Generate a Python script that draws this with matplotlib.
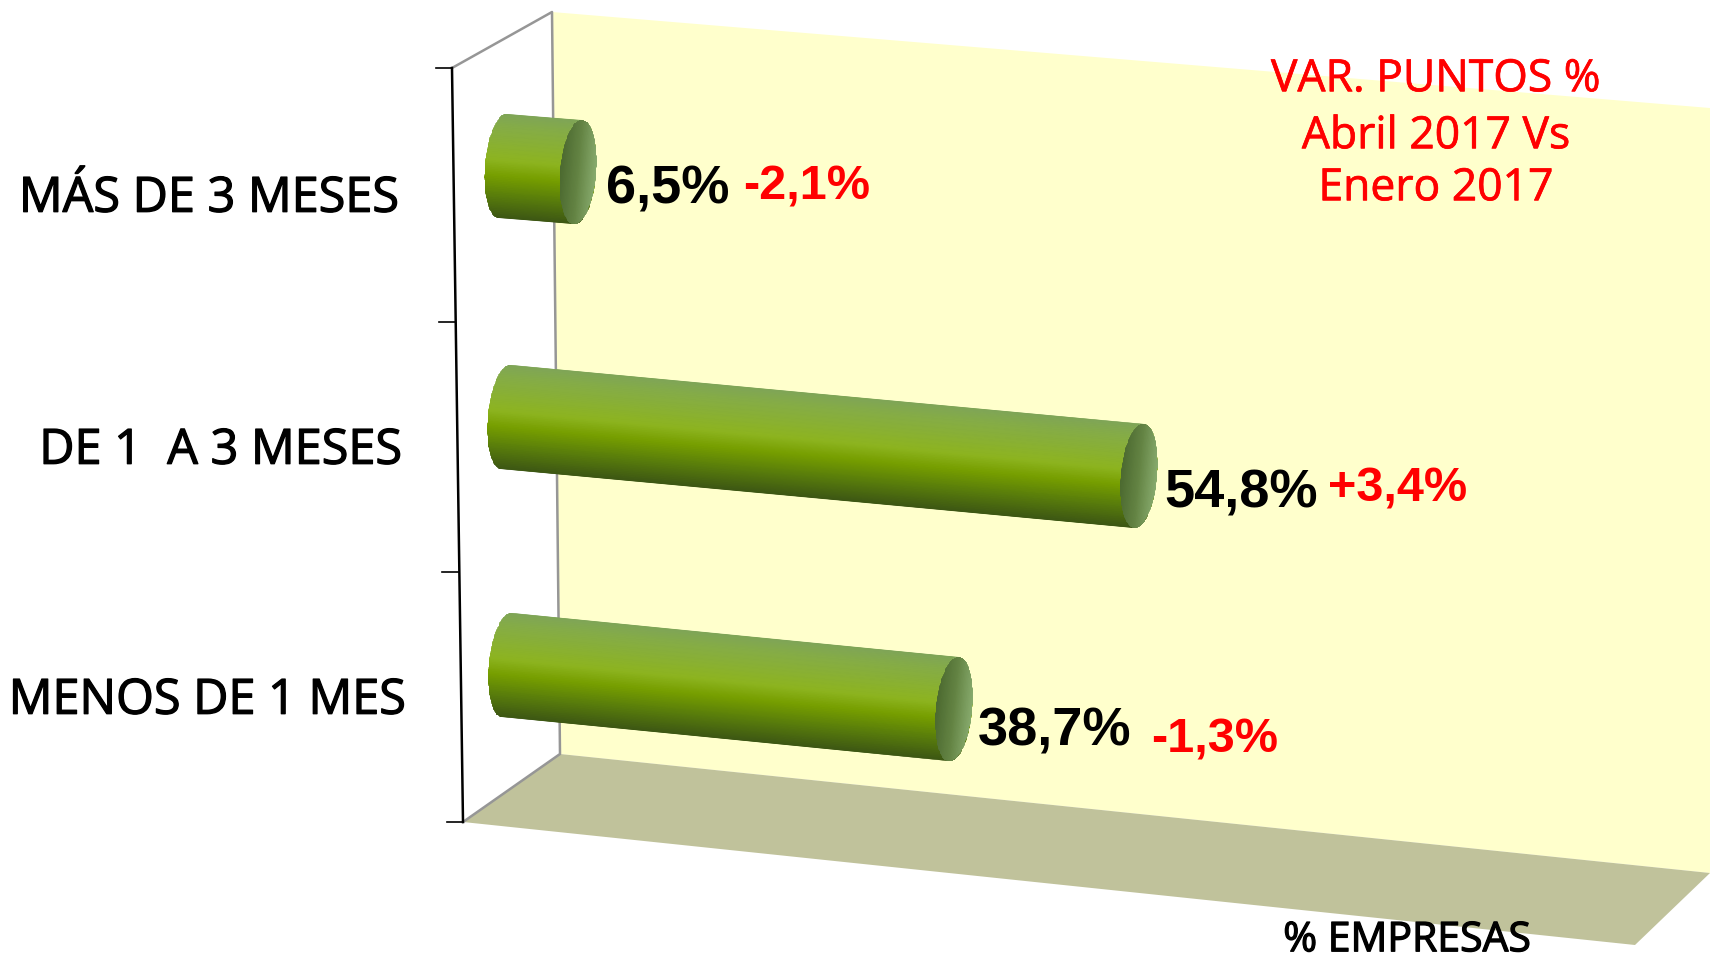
import numpy as np
import matplotlib
matplotlib.use("Agg")
import matplotlib.pyplot as plt
import matplotlib.patheffects as pe
from matplotlib.colors import LinearSegmentedColormap
from matplotlib.patches import Polygon

# datos del grafico
categorias = ["MÁS DE 3 MESES", "DE 1  A 3 MESES", "MENOS DE 1 MES"]
valores = [6.5, 54.8, 38.7]
variacion = ["-2,1%", "+3,4%", "-1,3%"]
etiquetas = ["6,5%", "54,8%", "38,7%"]
titulo_var = ["VAR. PUNTOS %", "Abril 2017 Vs", "Enero 2017"]
titulo_eje = "% EMPRESAS"

# escala y geometria en pixeles de la imagen
PX_POR_PUNTO = 11.55
inicio_x = [503, 506, 507]
inicio_y = [166, 417, 665]
pendiente = [0.083, 0.093, 0.099]
radio_y = 52
radio_x = 18

etiqueta_y = [199, 451, 701]
valor_pos = [(606, 189), (1164, 494), (978, 731)]
var_pos = [(743, 187), (1328, 489), (1151, 740)]

cmap_cuerpo = LinearSegmentedColormap.from_list(
    "cuerpo",
    [(0.0, "#7FA558"), (0.12, "#85AC48"), (0.45, "#8DB420"), (0.60, "#779F00"),
     (0.80, "#587C0C"), (1.0, "#3D5714")],
)
cmap_tapa = LinearSegmentedColormap.from_list("tapa", ["#4C6A30", "#648444", "#88AB6E"])


def anillo(cx, cy, s, t):
    # elipse girada segun la pendiente de la barra
    dx = radio_x * np.cos(t)
    dy = radio_y * np.sin(t)
    return cx + dx - s * dy, cy + dy + s * dx


def cilindro(ax, x0, y0, valor, s):
    largo = valor * PX_POR_PUNTO
    x1, y1 = x0 + largo, y0 + s * largo

    # cuerpo con degradado vertical
    izq = np.linspace(np.pi / 2, 3 * np.pi / 2, 60)
    der = np.linspace(-np.pi / 2, np.pi / 2, 60)
    xa, ya = anillo(x0, y0, s, izq)
    xb, yb = anillo(x1, y1, s, der)
    borde = np.column_stack([np.r_[xa, xb], np.r_[ya, yb]])
    clip = Polygon(borde, closed=True, transform=ax.transData)

    u = np.linspace(-radio_x - 8, largo + radio_x + 8, 2)
    v = np.linspace(-radio_y, radio_y, 60)
    U, V = np.meshgrid(u, v)
    X = x0 + U - s * V
    Y = y0 + V + s * U
    m = ax.pcolormesh(X, Y, (V + radio_y) / (2 * radio_y), cmap=cmap_cuerpo,
                      shading="gouraud", vmin=0, vmax=1, zorder=3)
    m.set_clip_path(clip)

    # tapa con degradado horizontal
    t = np.linspace(0, 2 * np.pi, 120)
    xt, yt = anillo(x1, y1, s, t)
    clip_t = Polygon(np.column_stack([xt, yt]), closed=True, transform=ax.transData)
    u = np.linspace(-radio_x, radio_x, 30)
    v = np.linspace(-radio_y - 4, radio_y + 4, 2)
    U, V = np.meshgrid(u, v)
    X = x1 + U - s * V
    Y = y1 + V + s * U
    m = ax.pcolormesh(X, Y, (U + radio_x) / (2 * radio_x), cmap=cmap_tapa,
                      shading="gouraud", vmin=0, vmax=1, zorder=4)
    m.set_clip_path(clip_t)


fig = plt.figure(figsize=(17.1, 9.61), dpi=100)
ax = fig.add_axes([0, 0, 1, 1])
ax.set_xlim(0, 1710)
ax.set_ylim(961, 0)
ax.axis("off")

# pared del fondo y suelo
ax.add_patch(Polygon([(552, 12), (1710, 108), (1710, 873), (560, 754)], color="#FFFFCC", lw=0, zorder=1))
ax.add_patch(Polygon([(463, 822), (560, 754), (1710, 873), (1635, 945)], color="#C0C29B", lw=0, zorder=1))

# lineas de la caja
ax.plot([452, 552, 560, 463], [68, 12, 754, 822], color="#969696", lw=1.8, zorder=2)
ax.plot([452, 463], [68, 822], color="black", lw=1.8, zorder=2)
for xt, yt in [(452, 68), (455, 322), (458, 572), (463, 822)]:
    ax.plot([xt - 16, xt], [yt, yt], color="black", lw=1.2, zorder=2)

for i in range(len(valores)):
    cilindro(ax, inicio_x[i], inicio_y[i], valores[i], pendiente[i])

fuente = "Open Sans"
grueso = [pe.withStroke(linewidth=0.9, foreground="black")]
grueso_rojo = [pe.withStroke(linewidth=0.5, foreground="#FF0000")]

for cat, y, xr in zip(categorias, etiqueta_y, [399, 402, 406]):
    ax.text(xr, y, cat, ha="right", va="center", fontsize=35, family=fuente, color="black",
            zorder=5, path_effects=grueso)

for i in range(3):
    x, y = valor_pos[i]
    ax.text(x, y, etiquetas[i], ha="left", va="center", fontsize=39, family="Liberation Sans",
            fontweight="bold", color="black", zorder=5)
    x, y = var_pos[i]
    ax.text(x, y, variacion[i], ha="left", va="center", fontsize=35, family="Liberation Sans",
            fontweight="bold", color="#FF0000", zorder=5)

for linea, y in zip(titulo_var, [80, 137, 189]):
    ax.text(1436, y, linea, ha="center", va="center", fontsize=32, family=fuente, color="#FF0000",
            zorder=5, path_effects=grueso_rojo)

ax.text(1407, 941, titulo_eje, ha="center", va="center", fontsize=29.5, family=fuente, color="black",
        zorder=5, path_effects=grueso)

fig.savefig("out.png", dpi=100)
